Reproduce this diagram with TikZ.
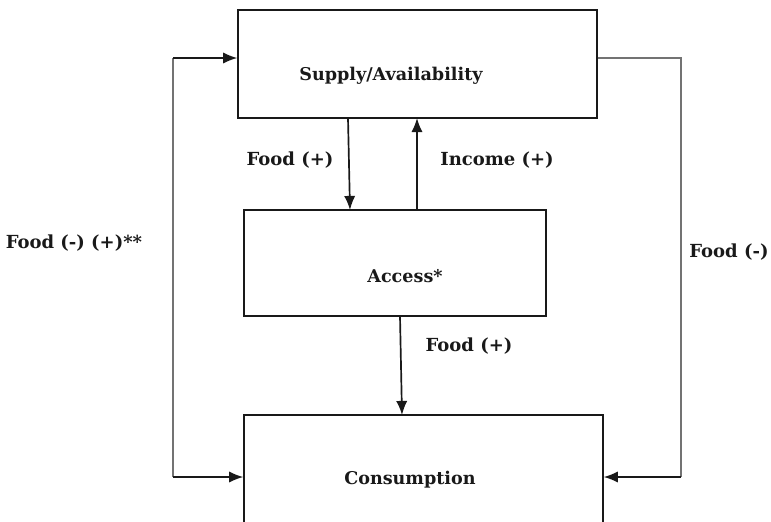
\documentclass[tikz,border=0pt]{standalone}
\usepackage{fontspec}
\setmainfont{DejaVu Serif}
\usepackage{tikz}
\usetikzlibrary{calc, arrows.meta, positioning}
\definecolor{mainBlack}{gray}{0.1}
\definecolor{subGray}{gray}{0.45}

\tikzset{
    stagebox/.style={draw=mainBlack, line width=1pt, rectangle, inner sep=0pt},
    stagetext/.style={font=\bfseries\fontsize{12.5}{14}\selectfont, text=mainBlack},
    flowlabel/.style={font=\bfseries\fontsize{12.8}{15}\selectfont, text=mainBlack},
    flow/.style={->, line width=1.2pt, mainBlack},
    loopline/.style={line width=0.8pt, subGray}
}

\begin{document}
\begin{tikzpicture}[x=0.025cm, y=-0.025cm, >={Latex[length=10pt, width=8pt]}]
    \useasboundingbox (0, 0) rectangle (771, 521);

    % the three stages
    \node[stagebox, minimum width=359*0.025cm, minimum height=108*0.025cm] (supply) at (417.5, 64) {};
    \node[stagebox, minimum width=302*0.025cm, minimum height=106*0.025cm] (access) at (395, 263) {};
    \node[stagebox, minimum width=359*0.025cm, minimum height=200*0.025cm] (consumption) at (423.5, 515) {};

    \node[stagetext] (supplyText) at (391, 76) {Supply/Availability};
    \node[stagetext] (accessText) at (405, 276) {Access*};
    \node[stagetext] (consumptionText) at (410, 480) {Consumption};

    % flows between stages
    \draw[flow] (348, 118) -- (350, 210);
    \draw[flow] (417, 210) -- (417, 118);
    \draw[flow] (400, 316) -- (402, 415);

    \node[flowlabel] (foodSupply) at (290, 160) {Food (+)};
    \node[flowlabel] (income) at (497, 160) {Income (+)};
    \node[flowlabel] (foodAccess) at (469, 346) {Food (+)};

    % feedback loops
    \coordinate (leftTop) at (173, 58);
    \coordinate (leftBottom) at (173, 477);
    \coordinate (rightTop) at (681, 58);
    \coordinate (rightBottom) at (681, 477);

    \draw[loopline] (leftTop) -- (leftBottom);
    \draw[flow] (leftTop) -- (supply.west |- leftTop);
    \draw[flow] (leftBottom) -- (consumption.west |- leftBottom);
    \draw[loopline] (supply.east |- rightTop) -- (rightTop) -- (rightBottom);
    \draw[flow] (rightBottom) -- (consumption.east |- rightBottom);

    \node[flowlabel] (foodLeft) at (74, 243) {Food (-) (+)**};
    \node[flowlabel] (foodRight) at (729, 252) {Food (-)};
\end{tikzpicture}
\end{document}
